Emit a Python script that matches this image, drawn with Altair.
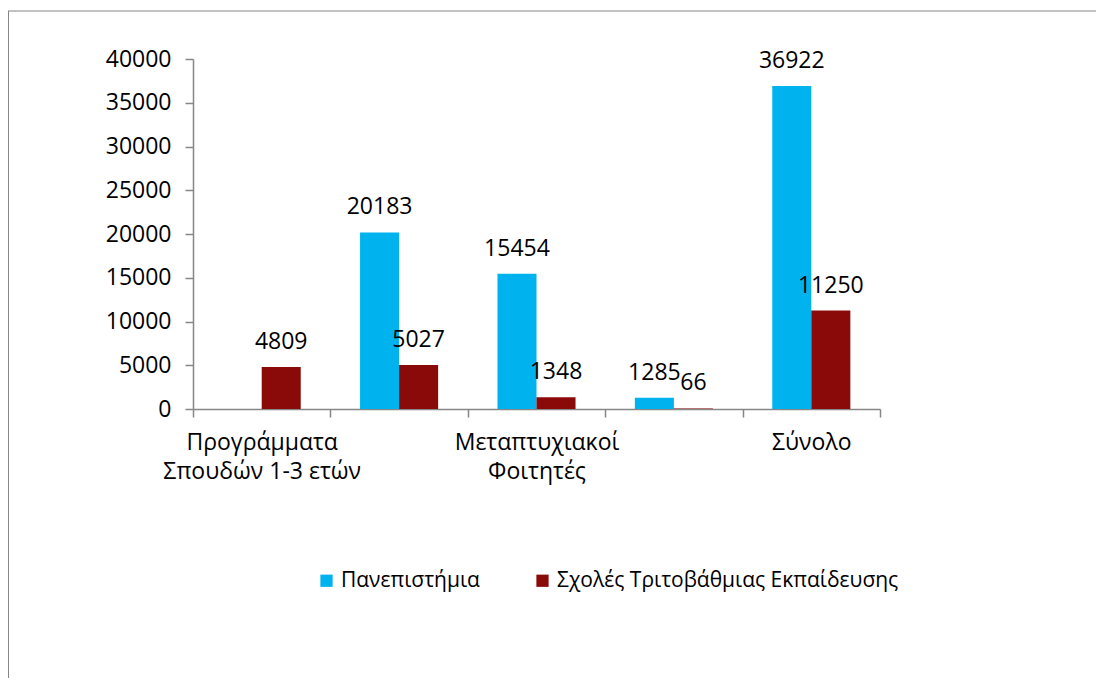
import altair as alt
import pandas as pd

categories = [
    "Προγράμματα Σπουδών 1-3 ετών",
    "Προπτυχιακοί Φοιτητές",
    "Μεταπτυχιακοί Φοιτητές",
    "Διδακτορικοί Φοιτητές",
    "Σύνολο",
]
series = ["Πανεπιστήμια", "Σχολές Τριτοβάθμιας Εκπαίδευσης"]
universities = [None, 20183, 15454, 1285, 36922]
tertiary_schools = [4809, 5027, 1348, 66, 11250]
colors = ["#00B2EE", "#8A0A0A"]
y_ticks = [0, 5000, 10000, 15000, 20000, 25000, 30000, 35000, 40000]

rows = []
for c, u, t in zip(categories, universities, tertiary_schools):
    if u is not None:
        rows.append({"cat": c, "series": series[0], "value": u})
    if t is not None:
        rows.append({"cat": c, "series": series[1], "value": t})
df = pd.DataFrame(rows)

FONT = "Open Sans"

label_expr = (
    "datum.value == 'Προγράμματα Σπουδών 1-3 ετών' ? ['Προγράμματα', 'Σπουδών 1-3 ετών'] : "
    "datum.value == 'Μεταπτυχιακοί Φοιτητές' ? ['Μεταπτυχιακοί', 'Φοιτητές'] : "
    "datum.value == 'Σύνολο' ? 'Σύνολο' : ''"
)

x_enc = alt.X(
    "cat:N",
    sort=categories,
    scale=alt.Scale(paddingInner=0, paddingOuter=0),
    axis=alt.Axis(
        title=None,
        labelExpr=label_expr,
        labelAngle=0,
        labelFont=FONT,
        labelFontSize=23,
        labelColor="#000000",
        labelLineHeight=29,
        labelPadding=14,
        tickBand="extent",
        tickSize=8,
        tickColor="#868686",
        tickWidth=1.5,
        domainColor="#868686",
        domainWidth=1.5,
        labelLimit=300,
    ),
)
xoff_enc = alt.XOffset("series:N", sort=series, scale=alt.Scale(paddingOuter=0.76, paddingInner=0))
y_enc = alt.Y(
    "value:Q",
    scale=alt.Scale(domain=[0, 40000]),
    axis=alt.Axis(
        title=None,
        values=y_ticks,
        format="d",
        grid=False,
        labelFont=FONT,
        labelFontSize=23,
        labelColor="#000000",
        labelPadding=14,
        tickSize=8,
        tickColor="#868686",
        tickWidth=1.5,
        domainColor="#868686",
        domainWidth=1.5,
    ),
)

base = alt.Chart(df)

bars = base.mark_bar().encode(
    x=x_enc,
    xOffset=xoff_enc,
    y=y_enc,
    color=alt.Color(
        "series:N",
        sort=series,
        scale=alt.Scale(domain=series, range=colors),
        legend=alt.Legend(
            title=None,
            orient="none",
            legendX=123,
            legendY=511,
            direction="horizontal",
            symbolType="square",
            symbolSize=150,
            symbolStrokeWidth=0,
            labelFont=FONT,
            labelFontSize=21,
            labelColor="#000000",
            labelOffset=4,
            columnPadding=52,
            labelLimit=400,
        ),
    ),
)

texts = base.mark_text(font=FONT, fontSize=23, color="#000000", baseline="alphabetic", dy=-18).encode(
    x=x_enc,
    xOffset=xoff_enc,
    y=y_enc,
    text=alt.Text("value:Q", format="d"),
)

frame_data = alt.Data(values=[{"k": 1}])
left_border = alt.Chart(frame_data).mark_rule(color="#868686", strokeWidth=2).encode(
    x=alt.value(-185), y=alt.value(-48), y2=alt.value(700)
)
top_border = alt.Chart(frame_data).mark_rule(color="#868686", strokeWidth=1.2).encode(
    x=alt.value(-186), x2=alt.value(1000), y=alt.value(-48)
)

chart = (
    alt.layer(left_border, top_border, bars, texts)
    .properties(
        width=687,
        height=350,
        autosize=alt.AutoSizeParams(type="none"),
        padding={"left": 185, "top": 51, "right": 216, "bottom": 269},
    )
    .configure_view(stroke=None)
)

chart.save("out.html", embed_options={"renderer": "svg", "actions": False})
